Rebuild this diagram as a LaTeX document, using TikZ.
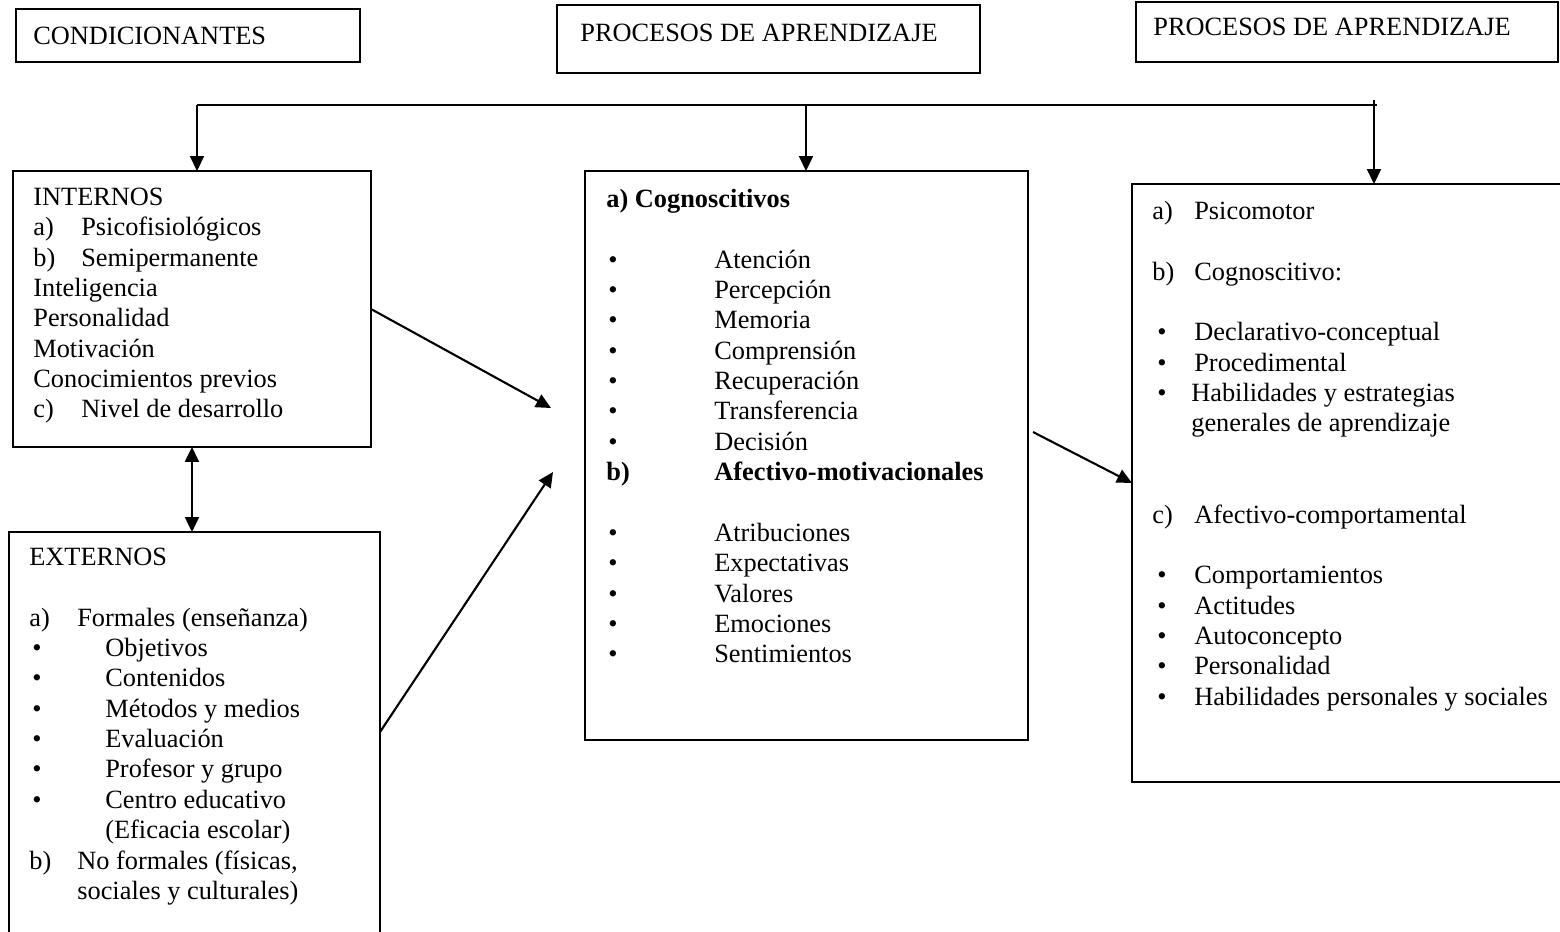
\documentclass[tikz,border=0pt]{standalone}
\usepackage{fontspec}
\setmainfont{Liberation Serif}
\usetikzlibrary{arrows.meta}
\tikzset{
  caja/.style={draw, line width=1.2pt, rectangle, inner sep=0pt, outer sep=0pt, anchor=north west},
  texto/.style={inner sep=0pt, align=left, anchor=north west, font=\fontsize{15}{17.29}\selectfont},
  rotulo/.style={inner sep=0pt, anchor=base west, font=\fontsize{15}{17.29}\selectfont},
  linea/.style={line width=1.2pt},
  flecha/.style={line width=1.2pt, -{Triangle[length=0.3cm, width=0.28cm]}},
  doble/.style={line width=1.2pt, {Triangle[length=0.3cm, width=0.28cm]}-{Triangle[length=0.3cm, width=0.28cm]}},
}
\newcommand{\primera}{\rule{0pt}{12pt}}
\newcommand{\etq}[2][0.96cm]{\makebox[#1][l]{#2}}
\newcommand{\punto}[2]{\makebox[#1][l]{\hspace{#2}\textbullet}}

\begin{document}
\begin{tikzpicture}[x=0.02cm, y=-0.02cm]
  \useasboundingbox (0,0) rectangle (1560,931);

  % encabezados
  \node[caja, minimum width=6.88cm, minimum height=1.06cm] (cond) at (16,9) {};
  \node[rotulo] (tcond) at (33,44) {CONDICIONANTES};
  \node[caja, minimum width=8.46cm, minimum height=1.36cm] (proc1) at (557,5) {};
  \node[rotulo] (tproc1) at (580,41) {PROCESOS DE APRENDIZAJE};
  \node[caja, minimum width=8.44cm, minimum height=1.2cm] (proc2) at (1136,2) {};
  \node[rotulo] (tproc2) at (1153,35) {PROCESOS DE APRENDIZAJE};

  % cajas
  \node[caja, minimum width=7.16cm, minimum height=5.52cm] (internos) at (13,171) {};
  \node[caja, minimum width=7.42cm, minimum height=8.56cm] (externos) at (9,532) {};
  \node[caja, minimum width=8.86cm, minimum height=11.38cm] (medio) at (585,171) {};
  \node[caja, minimum width=9.36cm, minimum height=11.96cm] (derecha) at (1132,184) {};

  \node[texto] (tint) at (33,183.8) {\primera INTERNOS\\
    \etq{a)}Psicofisiológicos\\
    \etq{b)}Semipermanente\\
    Inteligencia\\
    Personalidad\\
    Motivación\\
    Conocimientos previos\\
    \etq{c)}Nivel de desarrollo};

  \node[texto] (text) at (29,543.8) {\primera EXTERNOS\\[17.29pt]
    \etq{a)}Formales (enseñanza)\\
    \punto{1.52cm}{0.06cm}Objetivos\\
    \punto{1.52cm}{0.06cm}Contenidos\\
    \punto{1.52cm}{0.06cm}Métodos y medios\\
    \punto{1.52cm}{0.06cm}Evaluación\\
    \punto{1.52cm}{0.06cm}Profesor y grupo\\
    \punto{1.52cm}{0.06cm}Centro educativo\\
    \hspace*{1.52cm}(Eficacia escolar)\\
    \etq{b)}No formales (físicas,\\
    \hspace*{0.96cm}sociales y culturales)};

  \node[texto] (tmed) at (606,185.8) {\primera\textbf{a) Cognoscitivos}\\[17.29pt]
    \punto{2.16cm}{0.04cm}Atención\\
    \punto{2.16cm}{0.04cm}Percepción\\
    \punto{2.16cm}{0.04cm}Memoria\\
    \punto{2.16cm}{0.04cm}Comprensión\\
    \punto{2.16cm}{0.04cm}Recuperación\\
    \punto{2.16cm}{0.04cm}Transferencia\\
    \punto{2.16cm}{0.04cm}Decisión\\
    \etq[2.16cm]{\textbf{b)}}\textbf{Afectivo-motivacionales}\\[17.29pt]
    \punto{2.16cm}{0.04cm}Atribuciones\\
    \punto{2.16cm}{0.04cm}Expectativas\\
    \punto{2.16cm}{0.04cm}Valores\\
    \punto{2.16cm}{0.04cm}Emociones\\
    \punto{2.16cm}{0.04cm}Sentimientos};

  \node[texto] (tder) at (1152,197.8) {\primera\etq[0.84cm]{a)}Psicomotor\\[17.29pt]
    \etq[0.84cm]{b)}Cognoscitivo:\\[17.29pt]
    \punto{0.84cm}{0.1cm}Declarativo-conceptual\\
    \punto{0.84cm}{0.1cm}Procedimental\\
    \punto{0.78cm}{0.1cm}Habilidades y estrategias\\
    \hspace*{0.78cm}generales de aprendizaje\\[34.58pt]
    \etq[0.84cm]{c)}Afectivo-comportamental\\[17.29pt]
    \punto{0.84cm}{0.1cm}Comportamientos\\
    \punto{0.84cm}{0.1cm}Actitudes\\
    \punto{0.84cm}{0.1cm}Autoconcepto\\
    \punto{0.84cm}{0.1cm}Personalidad\\
    \punto{0.84cm}{0.1cm}Habilidades personales y sociales};

  % conectores
  \coordinate (busL) at (197,105);
  \coordinate (busM) at (806,105);
  \coordinate (busR) at (1377,105);
  \coordinate (busRtop) at (1374,100);
  \draw[linea] (busL) -- (busR);
  \draw[flecha] (busL) -- (busL |- internos.north);
  \draw[flecha] (busM) -- (busM |- medio.north);
  \draw[flecha] (busRtop) -- (busRtop |- derecha.north);
  \draw[doble] (internos.south) -- (internos.south |- externos.north);

  \coordinate (p1) at (551,408);
  \coordinate (salExt) at (380,732);
  \coordinate (p2) at (553,472);
  \coordinate (salMed) at (1033,432);
  \draw[flecha] (internos.east) -- (p1);
  \draw[flecha] (salExt) -- (p2);
  \draw[flecha] (salMed) -- (derecha.west);
\end{tikzpicture}
\end{document}
